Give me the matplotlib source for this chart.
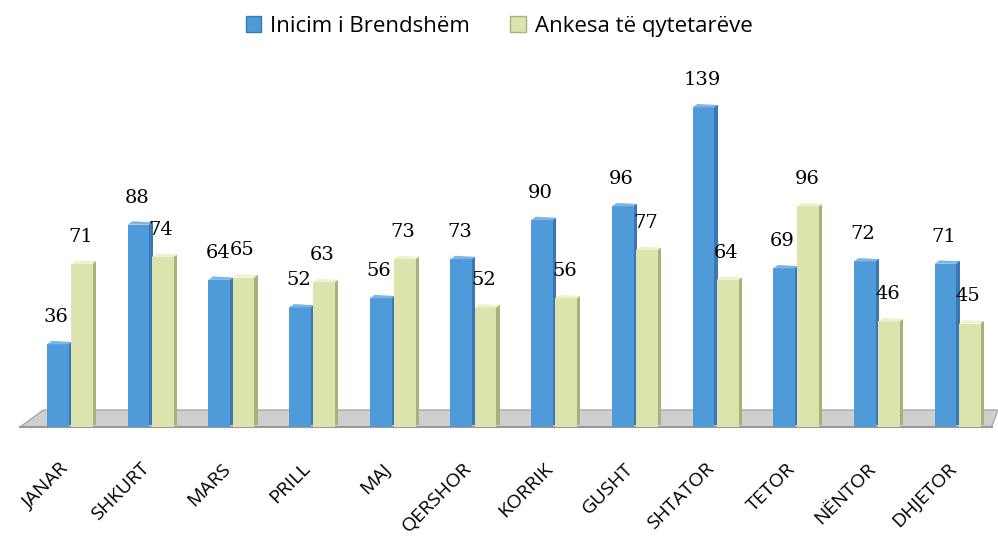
import numpy as np
import matplotlib
matplotlib.use("Agg")
import matplotlib.pyplot as plt
from matplotlib.patches import Polygon, Patch

# të dhënat sipas muajve
muajt = ['JANAR', 'SHKURT', 'MARS', 'PRILL', 'MAJ', 'QERSHOR',
         'KORRIK', 'GUSHT', 'SHTATOR', 'TETOR', 'NËNTOR', 'DHJETOR']
inicim = [36, 88, 64, 52, 56, 73, 90, 96, 139, 69, 72, 71]
ankesa = [71, 74, 65, 63, 73, 52, 56, 77, 64, 96, 46, 45]
seri_emrat = ['Inicim i Brendshëm', 'Ankesa të qytetarëve']

blu = '#4F9BDA'
blu_err = '#3A78B5'
blu_top = '#7DB6E6'
jeshil = '#DCE3AC'
jeshil_err = '#A9B07A'
jeshil_top = '#EEF2CC'

fig = plt.figure(figsize=(9.98, 5.37), dpi=100)
ax = fig.add_axes([0, 0, 1, 1])
ax.set_xlim(-0.867, 11.5)
ax.set_ylim(-48.7, 184.8)
ax.axis('off')

x = np.arange(len(muajt))
w = 0.27
dep = 0.04   # thellësia e anës
dy = 2.5     # lartësia e kapakut

# dyshemeja gri
floor = Polygon([(-0.62, -0.9), (11.42, -0.9), (11.5, 6.5), (-0.33, 6.5)],
                closed=True, facecolor='#CFCFCF', edgecolor='#A8A8A8', lw=1, zorder=1)
ax.add_patch(floor)
ax.plot([-0.62, 11.42], [-0.9, -0.9], color='#9A9A9A', lw=1.5, zorder=1)


def bar3d(xc, vals, col, col_side, col_top):
    ax.bar(xc, vals, width=w, color=col, bottom=-0.9, zorder=3, align='center')
    ax.bar(xc + w / 2 + dep / 2, vals, width=dep, color=col_side, bottom=-0.9 + dy * 0.4, zorder=3)
    for xi, v in zip(xc, vals):
        top = Polygon([(xi - w / 2, v - 0.9), (xi + w / 2, v - 0.9),
                       (xi + w / 2 + dep, v - 0.9 + dy * 0.4), (xi - w / 2 + dep * 1.5, v - 0.9 + dy * 0.6)],
                      closed=True, facecolor=col_top, edgecolor='none', zorder=3)
        ax.add_patch(top)


bar3d(x - 0.15, inicim, blu, blu_err, blu_top)
bar3d(x + 0.15, ankesa, jeshil, jeshil_err, jeshil_top)

for xi, v in zip(x, inicim):
    ax.text(xi - 0.17, v + 7, str(v), ha='center', va='bottom', fontsize=14,
            family='DejaVu Serif', color='black', zorder=5)
for xi, v in zip(x, ankesa):
    ax.text(xi + 0.13, v + 7, str(v), ha='center', va='bottom', fontsize=14,
            family='DejaVu Serif', color='black', zorder=5)

for xi, m in zip(x, muajt):
    ax.text(xi - 0.13, -15, m, rotation=45, ha='right', va='top', rotation_mode='anchor',
            fontsize=14, family='Open Sans', color='black')

handles = [Patch(facecolor=blu, edgecolor=blu_err), Patch(facecolor=jeshil, edgecolor=jeshil_err)]
ax.legend(handles, seri_emrat, loc='upper center', bbox_to_anchor=(0.5, 1.0), ncol=2,
          frameon=False, prop={'family': 'Open Sans', 'size': 16},
          handlelength=0.7, handleheight=0.7, handletextpad=0.4, columnspacing=1.8,
          borderaxespad=0.3)

fig.savefig('out.png', dpi=100)
